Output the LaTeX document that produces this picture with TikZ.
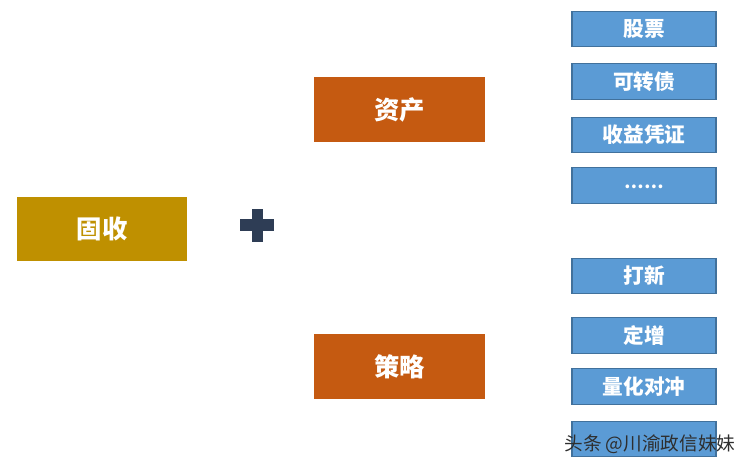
\documentclass[tikz,border=0pt]{standalone}
\usepackage{fontspec}
\setmainfont{Noto Sans CJK SC}
\newfontfamily\cjk{Noto Sans CJK SC}
\definecolor{gold}{HTML}{BF9000}
\definecolor{rust}{HTML}{C55A11}
\definecolor{sky}{HTML}{5B9BD5}
\definecolor{skyline}{HTML}{41719C}
\definecolor{navy}{HTML}{2E3D55}
\begin{document}
\begin{tikzpicture}[x=0.75pt,y=-0.75pt,
  bigbox/.style={rectangle,inner sep=0pt,minimum width=128pt,minimum height=48.5pt,text=white,font=\cjk\bfseries\fontsize{19pt}{21pt}\selectfont},
  smallbox/.style={rectangle,draw=skyline,line width=0.8pt,fill=sky,inner sep=0pt,minimum width=108pt,minimum height=26.6pt,text=white,font=\cjk\bfseries\fontsize{15.5pt}{17pt}\selectfont},
  plusbar/.style={fill=navy,draw=none}]
\useasboundingbox (0,0) rectangle (752,467);
\fill[white] (0,0) rectangle (752,467);
\node[bigbox,fill=gold,minimum width=127.5pt,minimum height=48pt] (gushou) at (102,229) {固收};
\node[bigbox,fill=rust] (zichan) at (399.5,109.5) {资产};
\node[bigbox,fill=rust] (celue) at (399.5,366.5) {策略};
\fill[plusbar] (240,219) rectangle (274,231);
\fill[plusbar] (252,209) rectangle (263,242);
\node[smallbox] (gupiao) at (644,29) {股票};
\node[smallbox] (kzz) at (644,81.5) {可转债};
\node[smallbox] (sypz) at (644,135) {收益凭证};
\node[smallbox] (etc) at (644,185.5) {\fontsize{13pt}{15pt}\selectfont\raisebox{-4pt}{……}};
\node[smallbox] (daxin) at (644,276) {打新};
\node[smallbox] (dingzeng) at (644,335.5) {定增};
\node[smallbox] (lhdc) at (644,386.5) {量化对冲};
\node[smallbox] (last) at (644,439) {};
\node[text=black!82,font=\cjk\fontsize{14pt}{16pt}\selectfont,inner sep=1pt] (wm) at (650,444) {头条 @川渝政信妹妹};
\end{tikzpicture}
\end{document}
